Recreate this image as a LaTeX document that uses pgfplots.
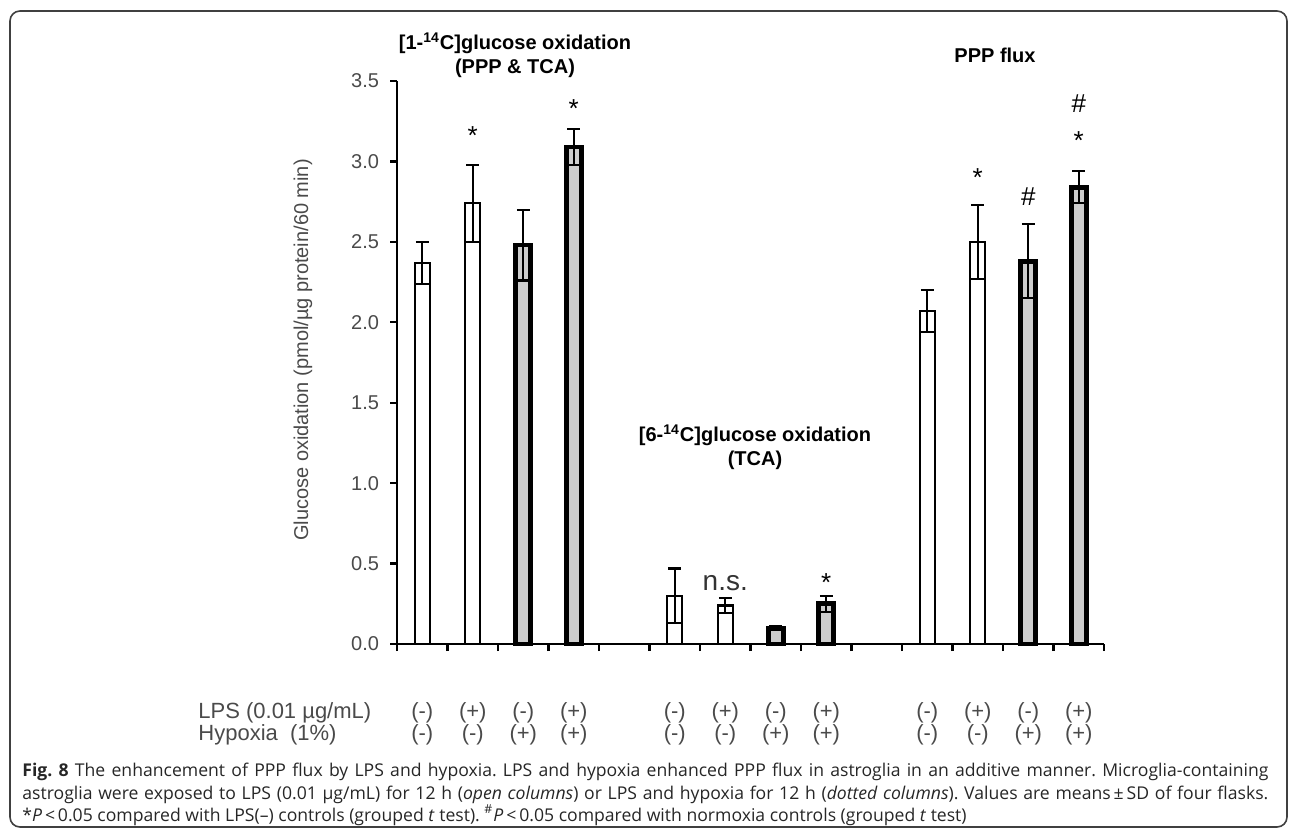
\documentclass[border=0pt]{standalone}
\usepackage{pgfplots}
\pgfplotsset{compat=1.18}
\usepackage{fontspec}
\setmainfont{Liberation Sans}
\newfontfamily\capfont{Open Sans}
\definecolor{ticktext}{HTML}{4A4A4A}
\definecolor{dotfill}{HTML}{CDCDCD}
\frenchspacing

\begin{document}
\begin{tikzpicture}
% page frame, caption and row labels in pixel units of the reference
\begin{scope}[x=0.5pt,y=-0.5pt]
  \path (0,0) rectangle (1290,829);
  \draw[line width=0.8pt, black!75, rounded corners=5pt] (10,11) rectangle (1287,827);
  \node[font=\bfseries\fontsize{10}{12}\selectfont, align=center] at (515,55)
    {[1-\textsuperscript{14}C]glucose oxidation\\(PPP \& TCA)};
  \node[font=\bfseries\fontsize{10}{12}\selectfont, align=center] at (755,447)
    {[6-\textsuperscript{14}C]glucose oxidation\\(TCA)};
  \node[font=\bfseries\fontsize{10}{12}\selectfont] at (995,55) {PPP flux};
  \node[rotate=90, font=\fontsize{10}{12}\selectfont, text=ticktext] at (303,350)
    {Glucose oxidation (pmol/µg protein/60 min)};
  \node[anchor=west, font=\fontsize{11}{13}\selectfont, text=ticktext, inner sep=0pt] at (198,713) {LPS (0.01 µg/mL)};
  \node[anchor=west, font=\fontsize{11}{13}\selectfont, text=ticktext, inner sep=0pt] at (198,735) {Hypoxia\ \ (1\%)};
  \foreach \xx/\a/\b in {422.3/-/-, 472.8/+/-, 523.3/-/+, 573.8/+/+,
                         674.8/-/-, 725.3/+/-, 775.8/-/+, 826.3/+/+,
                         927.3/-/-, 977.8/+/-, 1028.3/-/+, 1078.8/+/+} {
    \node[font=\fontsize{11}{13}\selectfont, text=ticktext, inner sep=0pt] at (\xx,713) {(\a)};
    \node[font=\fontsize{11}{13}\selectfont, text=ticktext, inner sep=0pt] at (\xx,735) {(\b)};
  }
  % caption
  \begin{scope}[every node/.style={anchor=base west, inner sep=0pt, text=black!85,
      font=\capfont\fontsize{8.8}{10}\selectfont}]
    \node at (22,776) {\hbox to 623pt{\textbf{Fig. 8} The enhancement of PPP flux by LPS and hypoxia. LPS and hypoxia enhanced PPP flux in astroglia in an additive manner. Microglia-containing}};
    \node at (22,799) {\hbox to 623pt{astroglia were exposed to LPS (0.01 µg/mL) for 12 h (\textit{open columns}) or LPS and hypoxia for 12 h (\textit{dotted columns}). Values are means\,±\,SD of four flasks.}};
    \node at (22,821) {*\textit{P}\,<\,0.05 compared with LPS(–) controls (grouped \textit{t} test). \textsuperscript{\#}\textit{P}\,<\,0.05 compared with normoxia controls (grouped \textit{t} test)};
  \end{scope}
\end{scope}

\begin{axis}[
    at={(198.5pt,-322pt)}, anchor=south west,
    scale only axis,
    width=353.5pt, height=281.5pt,
    xmin=0, xmax=14, ymin=0, ymax=3.5,
    axis lines=left,
    axis line style={-, line width=1.2pt},
    xtick={0,1,...,14}, xticklabels={},
    ytick={0,0.5,...,3.5},
    tick align=outside,
    major tick length=3.5pt,
    tick style={line width=1.1pt, black},
    yticklabel style={font=\fontsize{10}{12}\selectfont, text=ticktext, xshift=-2pt},
    /pgf/number format/.cd, fixed, fixed zerofill, precision=1, assume math mode=true,
    /pgfplots/.cd,
    clip=false,
]
% open columns (LPS only)
\addplot[ybar, bar shift=0pt, bar width=7.5pt, fill=white, draw=black, line width=1.1pt,
  error bars/.cd, y dir=both, y explicit, error mark=-,
  error bar style={line width=1.1pt, black},
  error mark options={rotate=90, mark size=3.2pt, line width=1.1pt, black}]
  coordinates {
    (0.5,2.37) +- (0,0.13)
    (1.5,2.74) +- (0,0.24)
    (5.5,0.30) +- (0,0.17)
    (6.5,0.24) +- (0,0.045)
    (10.5,2.07) +- (0,0.13)
    (11.5,2.50) +- (0,0.23)
  };
% dotted columns (LPS and hypoxia)
\addplot[ybar, bar shift=0pt, bar width=7.5pt, fill=dotfill, draw=black, line width=2.4pt,
  error bars/.cd, y dir=both, y explicit, error mark=-,
  error bar style={line width=1.1pt, black},
  error mark options={rotate=90, mark size=3.2pt, line width=1.1pt, black}]
  coordinates {
    (2.5,2.48) +- (0,0.22)
    (3.5,3.09) +- (0,0.11)
    (7.5,0.10) +- (0,0.01)
    (8.5,0.25) +- (0,0.05)
    (12.5,2.38) +- (0,0.23)
    (13.5,2.84) +- (0,0.10)
  };
% significance marks
\node[font=\fontsize{13}{14}\selectfont] at (axis cs:1.5,3.16) {*};
\node[font=\fontsize{13}{14}\selectfont] at (axis cs:3.5,3.33) {*};
\node[font=\fontsize{13}{14}\selectfont] at (axis cs:8.5,0.38) {*};
\node[font=\fontsize{13}{14}\selectfont] at (axis cs:11.5,2.90) {*};
\node[font=\fontsize{13}{14}\selectfont] at (axis cs:13.5,3.13) {*};
\node[font=\fontsize{13}{14}\selectfont] at (axis cs:12.5,2.78) {\#};
\node[font=\fontsize{13}{14}\selectfont] at (axis cs:13.5,3.36) {\#};
\node[font=\fontsize{14}{16}\selectfont, text=black!80] at (axis cs:6.5,0.38) {n.s.};
\end{axis}
\end{tikzpicture}
\end{document}
